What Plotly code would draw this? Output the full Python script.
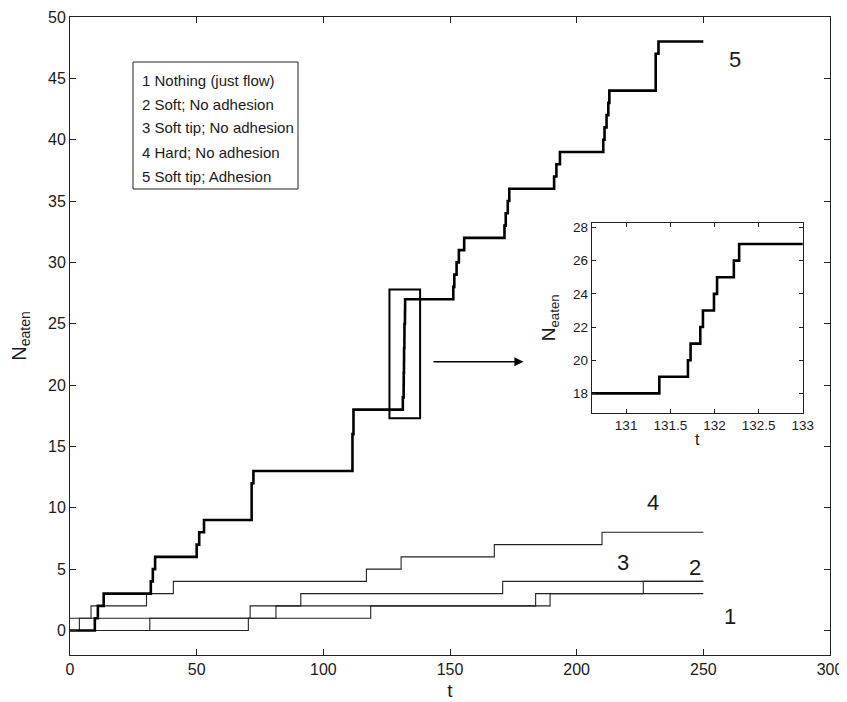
import plotly.graph_objects as go

# ---- data (event times t and cumulative N_eaten) ----
s1_t = [0, 70.4, 118.7, 189.5, 250]
s1_n = [0, 1, 2, 3, 3]
s2_t = [0, 31.5, 81.3, 183.8, 226.3, 250]
s2_n = [0, 1, 2, 3, 4, 4]
s3_t = [0, 3.7, 71.1, 91.1, 170.8, 250]
s3_n = [0, 1, 2, 3, 4, 4]
s4_t = [0, 8.3, 30.2, 40.8, 117.0, 130.7, 167.5, 210.0, 250]
s4_n = [1, 2, 3, 4, 5, 6, 7, 8, 8]
s5_t = [0, 9.8, 11.0, 13.3, 31.9, 32.7, 33.6, 50.0, 51.0, 52.9, 71.7, 72.4,
        111.5, 111.9, 131.376, 131.70, 131.73, 131.84, 131.87, 131.995, 132.03,
        132.22, 132.28, 151.3, 151.7, 152.6, 153.5, 155.6, 171.5, 172.0, 172.8,
        173.4, 191.1, 192.0, 193.4, 210.5, 211.0, 211.8, 212.5, 212.9, 231.2,
        232.3, 250]
s5_n = [0, 1, 2, 3, 4, 5, 6, 7, 8, 9, 12, 13,
        16, 18, 19, 20, 21, 22, 23, 24, 25,
        26, 27, 28, 29, 30, 31, 32, 33, 34, 35,
        36, 37, 38, 39, 40, 41, 42, 43, 44, 47,
        48, 48]

legend_labels = ["1 Nothing (just flow)", "2 Soft; No adhesion",
                 "3 Soft tip; No adhesion", "4 Hard; No adhesion",
                 "5 Soft tip; Adhesion"]
curve_labels = ["1", "2", "3", "4", "5"]
curve_label_t = [260.6, 246.7, 218.4, 230.0, 262.5]
curve_label_n = [1.15, 5.1, 5.5, 10.4, 46.5]

main_xticks = [0, 50, 100, 150, 200, 250, 300]
main_yticks = [0, 5, 10, 15, 20, 25, 30, 35, 40, 45, 50]
inset_xticks = [131, 131.5, 132, 132.5, 133]
inset_xticklabels = ["131", "131.5", "132", "132.5", "133"]
inset_yticks = [18, 20, 22, 24, 26, 28]

FONT = "Liberation Sans, Arial, sans-serif"
TXT = "#1a1a1a"

# the page body adds an 8 px margin: the figure is placed 8 px in,
# so it is made 8 px smaller and positions are given in page pixels
OFF = 8
W, H = 847 - OFF, 702 - OFF
# plot area in page pixels (top kept a little lower so "50" is not clipped)
L, R, T, B = 70, 830, 17, 655


def px(x):
    return (x - L) / (R - L)


def py(y):
    return (B - y) / (B - T)


fig = go.Figure()
thin = dict(color="#222222", width=1.1, shape="hv")
for tt, nn in [(s1_t, s1_n), (s2_t, s2_n), (s3_t, s3_n), (s4_t, s4_n)]:
    fig.add_trace(go.Scatter(x=tt, y=nn, mode="lines", line=thin,
                             showlegend=False, hoverinfo="skip"))
fig.add_trace(go.Scatter(x=s5_t, y=s5_n, mode="lines",
                         line=dict(color="black", width=2.6, shape="hv"),
                         showlegend=False, hoverinfo="skip"))
# inset
fig.add_trace(go.Scatter(x=s5_t, y=s5_n, mode="lines", xaxis="x2", yaxis="y2",
                         line=dict(color="black", width=2.6, shape="hv"),
                         showlegend=False, hoverinfo="skip"))

axis_common = dict(showline=True, linecolor="#222222", linewidth=1,
                   mirror="ticks", ticks="inside", tickcolor="#222222",
                   showgrid=False, zeroline=False, automargin=False,
                   ticklabeloverflow="allow")

ix0, ix1, iy0, iy1 = 591.7, 802.7, 223, 412.5

fig.update_layout(
    width=W, height=H,
    margin=dict(l=L - OFF, r=W - (R - OFF), t=T - OFF, b=H - (B - OFF)),
    paper_bgcolor="white", plot_bgcolor="white",
    font=dict(family=FONT, color=TXT, size=16),
    xaxis=dict(range=[0, 300], tickvals=main_xticks, ticklen=6,
               tickfont=dict(size=16), domain=[0, 1],
               title=dict(text="t", font=dict(size=19), standoff=6),
               **axis_common),
    yaxis=dict(range=[-2, 50], tickvals=main_yticks, ticklen=6,
               tickfont=dict(size=16), domain=[0, 1],
               title=dict(text="N<sub>eaten</sub>", font=dict(size=20), standoff=16),
               **axis_common),
    xaxis2=dict(range=[130.61, 133], tickvals=inset_xticks,
                ticktext=inset_xticklabels, ticklen=4,
                tickfont=dict(size=13.5), anchor="y2",
                domain=[px(ix0), px(ix1)],
                title=dict(text="t", font=dict(size=16), standoff=2),
                **axis_common),
    yaxis2=dict(range=[16.85, 28.27], tickvals=inset_yticks, ticklen=4,
                tickfont=dict(size=13.5), anchor="x2",
                domain=[py(iy1), py(iy0)],
                title=dict(text="N<sub>eaten</sub>", font=dict(size=19), standoff=12),
                **axis_common),
)

shapes = []
# white background for the inset
shapes.append(dict(type="rect", xref="paper", yref="paper",
                   x0=px(ix0), x1=px(ix1), y0=py(iy1), y1=py(iy0),
                   fillcolor="white", line=dict(width=0), layer="below"))
# legend box
shapes.append(dict(type="rect", xref="paper", yref="paper",
                   x0=px(133), x1=px(298), y0=py(189), y1=py(62),
                   fillcolor="white", line=dict(color="#222222", width=1)))
# zoom rectangle on the main axes
shapes.append(dict(type="rect", xref="x", yref="y",
                   x0=126.1, x1=138.2, y0=17.3, y1=27.8,
                   line=dict(color="black", width=2)))
fig.update_layout(shapes=shapes)

ann = []
for i, lab in enumerate(legend_labels):
    ann.append(dict(text=lab, xref="paper", yref="paper",
                    x=px(140), y=py(80 + 24 * i), xanchor="left",
                    yanchor="middle", showarrow=False,
                    font=dict(size=15, color=TXT, family=FONT)))
for lab, tx, ny in zip(curve_labels, curve_label_t, curve_label_n):
    ann.append(dict(text=lab, xref="x", yref="y", x=tx, y=ny,
                    xanchor="center", yanchor="middle", showarrow=False,
                    font=dict(size=22, color=TXT, family=FONT)))
# arrow
ann.append(dict(text="", xref="x", yref="y", axref="x", ayref="y",
                x=179.0, y=21.9, ax=142.9, ay=21.9, showarrow=True,
                arrowhead=2, arrowsize=1.4, arrowwidth=1.3, arrowcolor="black"))
fig.update_layout(annotations=ann)

fig.write_html("out.html")
